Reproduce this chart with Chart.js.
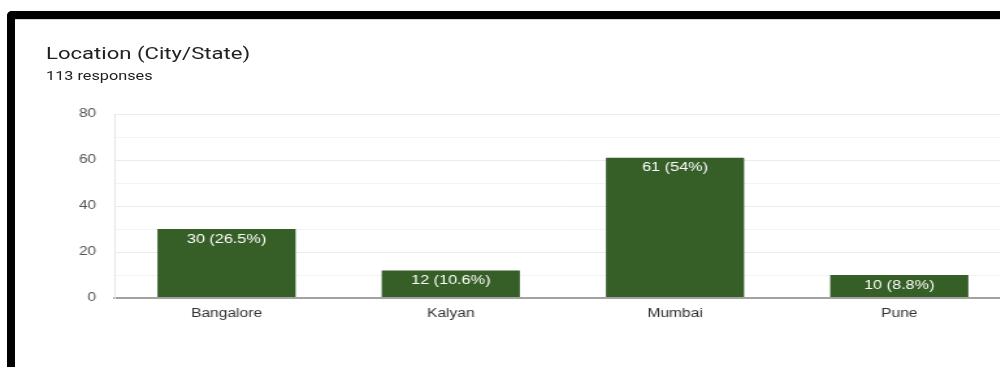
<!DOCTYPE html>
<html>
<head>
<meta charset="utf-8">
<script src="https://cdn.jsdelivr.net/npm/chart.js@4/dist/chart.umd.min.js"></script>
<style>
  html, body { margin: 0; padding: 0; background: #fff; overflow: hidden; }
  body { width: 1000px; height: 367px; position: relative; }
  /* screenshot frame */
  #frame {
    position: absolute; left: 7px; top: 11px; width: 1100px; height: 400px;
    border-top: 8px solid #000; border-left: 8px solid #000;
    border-top-left-radius: 5px; box-sizing: border-box;
  }
  #frameShade { position: absolute; left: 15px; top: 19px; width: 985px; height: 1px; background: #d4d4d4; }
  /* the card is rendered narrow and stretched horizontally */
  #card {
    position: absolute; left: 0; top: 0; width: 778px; height: 367px;
    transform: scaleX(1.3); transform-origin: 0 0;
  }
  #title {
    position: absolute; left: 35.4px; top: 42px; margin: 0;
    font-family: Roboto, sans-serif; font-size: 17px; font-weight: 400;
    color: #202124; line-height: 22px; white-space: nowrap;
  }
  #subtitle {
    position: absolute; left: 35.4px; top: 67.5px; margin: 0;
    font-family: Roboto, sans-serif; font-size: 12.5px; color: #202124;
    line-height: 15px; white-space: nowrap;
  }
  #chart { position: absolute; left: 0; top: 0; }
</style>
</head>
<body>
<div id="frame"></div>
<div id="frameShade"></div>
<div id="card">
  <div id="title">Location (City/State)</div>
  <div id="subtitle">113 responses</div>
  <canvas id="chart" width="778" height="367"></canvas>
</div>
<script>
// Responses per location
const categories = ['Bangalore', 'Kalyan', 'Mumbai', 'Pune'];
const counts = [30, 12, 61, 10];
const percents = ['26.5%', '10.6%', '54%', '8.8%'];
const yTicks = [0, 20, 40, 60, 80];

const BAR_GREEN = '#365e27';

// white "count (percent)" label just inside the top of each bar
const barLabels = {
  id: 'barLabels',
  afterDatasetsDraw(chart) {
    const ctx = chart.ctx;
    const meta = chart.getDatasetMeta(0);
    ctx.save();
    ctx.fillStyle = '#ffffff';
    ctx.font = '12.5px "Liberation Sans", Arial, sans-serif';
    ctx.textAlign = 'center';
    ctx.textBaseline = 'alphabetic';
    meta.data.forEach((bar, i) => {
      ctx.fillText(counts[i] + ' (' + percents[i] + ')', bar.x, bar.y + 13.5);
    });
    ctx.restore();
  }
};

new Chart(document.getElementById('chart'), {
  type: 'bar',
  data: {
    labels: categories,
    datasets: [{
      data: counts,
      backgroundColor: BAR_GREEN,
      borderWidth: 0,
      categoryPercentage: 1.0,
      barPercentage: 0.616
    }]
  },
  options: {
    responsive: false,
    animation: false,
    devicePixelRatio: 1,
    layout: { padding: { top: 114, left: 0, right: 0, bottom: 0 } },
    plugins: {
      legend: { display: false },
      tooltip: { enabled: false }
    },
    scales: {
      x: {
        grid: { display: false, drawTicks: false },
        border: { display: true, color: '#a2a2a2', width: 2 },
        ticks: {
          color: '#333333',
          padding: 8,
          font: { family: '"Liberation Sans", Arial, sans-serif', size: 12 }
        },
        afterFit(scale) { scale.height = 69; }
      },
      y: {
        min: 0,
        max: 80,
        grid: {
          drawTicks: false,
          color: (c) => c.tick.value === 0 ? '#a2a2a2'
                        : (yTicks.includes(c.tick.value) ? '#ebebeb' : '#f3f3f3'),
          lineWidth: (c) => c.tick.value === 0 ? 2 : 1
        },
        border: { display: true, color: '#e6e6e6', width: 1 },
        ticks: {
          stepSize: 10,
          autoSkip: false,
          padding: 14,
          color: '#555555',
          font: { family: '"Liberation Sans", Arial, sans-serif', size: 12 },
          callback: (v) => yTicks.includes(v) ? String(v) : ''
        },
        afterFit(scale) { scale.width = 88; }
      }
    }
  },
  plugins: [barLabels]
});
</script>
</body>
</html>
